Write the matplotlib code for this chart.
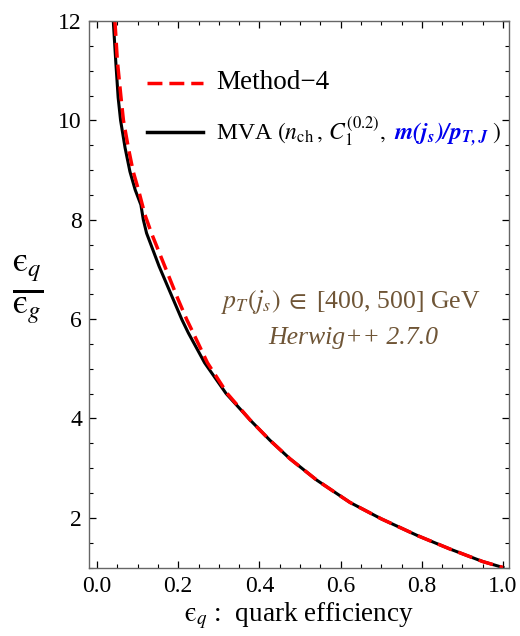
import numpy as np
import matplotlib
matplotlib.use("Agg")
from matplotlib import pyplot as plt
from matplotlib.ticker import MultipleLocator

plt.rcParams['font.family'] = ['Liberation Serif', 'DejaVu Serif']
plt.rcParams['mathtext.fontset'] = 'stix'

# MVA (black solid)
eq_mva = [0.040, 0.046, 0.052, 0.058, 0.069, 0.081, 0.094, 0.108, 0.114, 0.122,
          0.153, 0.188, 0.209, 0.225, 0.265, 0.318, 0.377, 0.426, 0.475,
          0.541, 0.623, 0.70, 0.79, 0.87, 0.95, 1.0]
r_mva = [12.0, 11.2, 10.46, 10.0, 9.45, 8.97, 8.6, 8.3, 8.0, 7.73,
         7.06, 6.39, 5.99, 5.72, 5.12, 4.50, 3.97, 3.56, 3.19,
         2.76, 2.31, 1.98, 1.64, 1.37, 1.12, 1.0]

# Method-4 (red dashed)
eq_m4 = [0.044, 0.050, 0.059, 0.065, 0.077, 0.089, 0.102, 0.118, 0.134, 0.167,
         0.200, 0.221, 0.237, 0.272, 0.321, 0.377, 0.426, 0.475,
         0.541, 0.623, 0.70, 0.79, 0.87, 0.95, 1.0]
r_m4 = [12.0, 11.2, 10.46, 10.0, 9.45, 8.97, 8.6, 8.1, 7.73, 7.06,
        6.39, 5.99, 5.72, 5.12, 4.50, 3.97, 3.56, 3.19,
        2.76, 2.31, 1.98, 1.64, 1.37, 1.12, 1.0]

brown = '#6f5536'
eps = '\u03f5'

fig = plt.figure(figsize=(5.2, 6.36), dpi=100)
ax = fig.add_axes([0.171, 0.1077, 0.808, 0.8593])

ax.plot(eq_mva, r_mva, color='black', lw=2.2, solid_joinstyle='round')
ax.plot(eq_m4, r_m4, color='red', lw=2.5, dashes=(4.3, 2.0))

ax.set_xlim(-0.02, 1.015)
ax.set_ylim(1, 12)
ax.xaxis.set_minor_locator(MultipleLocator(0.05))
ax.yaxis.set_minor_locator(MultipleLocator(0.5))
ax.set_xticks([0, 0.2, 0.4, 0.6, 0.8, 1.0])
ax.set_xticklabels(['0.0', '0.2', '0.4', '0.6', '0.8', '1.0'])
ax.set_yticks([2, 4, 6, 8, 10, 12])
ax.tick_params(which='both', direction='in', top=True, right=True, labelsize=17)
ax.tick_params(which='major', length=5, width=0.9)
ax.tick_params(which='minor', length=3, width=0.8)
ax.tick_params(axis='x', pad=6)
ax.tick_params(axis='y', pad=5)
for s in ax.spines.values():
    s.set_color('#666666')
    s.set_linewidth(1.0)

ax.set_xlabel(r'$\mathrm{' + eps + r'}_q$ :  quark efficiency', fontsize=19.5,
              labelpad=3)
fig.text(0.054, 0.545, r'$\frac{\mathrm{' + eps + r'}_q}{\mathrm{' + eps + r'}_g}$',
         fontsize=36, ha='center', va='center')

# legend
ax.plot([0.138, 0.271], [0.887, 0.887], transform=ax.transAxes, color='red',
        lw=2.5, dashes=(4.3, 2.0))
ax.plot([0.138, 0.271], [0.797, 0.797], transform=ax.transAxes, color='black',
        lw=2.5)
ax.text(0.302, 0.887, 'Method\u22124', transform=ax.transAxes, fontsize=19.5,
        va='center')
yb = 0.784
t1 = ax.text(0.302, yb, r'MVA $(n_{\rm ch}\,,\,C_1^{(0.2)},$',
             transform=ax.transAxes, fontsize=17, va='baseline')
fig.canvas.draw()
inv = ax.transAxes.inverted()
x1 = inv.transform((t1.get_window_extent().x1, 0))[0] + 0.02
t2 = ax.text(x1, yb, r'$\mathbfit{m(j_s)/p_{T,J}}$', transform=ax.transAxes,
             fontsize=17, va='baseline', color='#0000ee')
fig.canvas.draw()
x2 = inv.transform((t2.get_window_extent().x1, 0))[0] + 0.006
ax.text(x2, yb, r'$)$', transform=ax.transAxes, fontsize=17, va='baseline')

ax.text(0.624, 0.486, r'$p_T(j_s)\;\in$ [400, 500] GeV', transform=ax.transAxes,
        fontsize=18.5, color=brown, ha='center', va='center')
ax.text(0.63, 0.42, 'Herwig++ 2.7.0', transform=ax.transAxes, fontsize=18.5,
        color=brown, ha='center', va='center', style='italic')

fig.savefig('out.png', dpi=100)
